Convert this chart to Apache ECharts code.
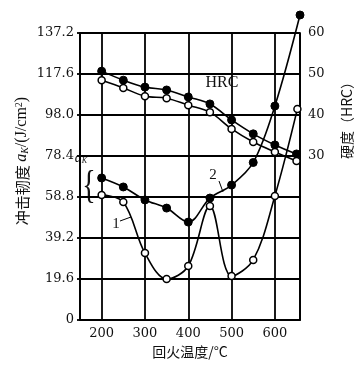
<!DOCTYPE html>
<html><head><meta charset="utf-8">
<script src="https://cdn.jsdelivr.net/npm/echarts@6/dist/echarts.min.js"></script>
<style>html,body{margin:0;padding:0;background:#fff}#c{width:357px;height:375px}</style>
</head><body><div id="c"></div>
<script>
// temperatures (°C)
const hrcTemps = [200, 250, 300, 350, 400, 450, 500, 550, 600, 650];
const ak1Temps = [200, 250, 300, 350, 400, 450, 500, 550, 600, 652];
const ak2Temps = [200, 250, 300, 350, 400, 450, 500, 550, 600, 658];
// hardness HRC (filled dots / open circles)
const hrcFilled = [50.7, 48.5, 46.8, 46.1, 44.4, 42.7, 38.8, 35.4, 32.7, 30.5];
const hrcOpen   = [48.5, 46.6, 44.6, 44.1, 42.4, 40.7, 36.6, 33.4, 31.0, 28.8];
// impact toughness aK (J/cm2): curve 1 (open) and curve 2 (filled)
const ak1 = [59.8, 56.4, 32.0, 19.6, 25.8, 54.5, 21.0, 28.7, 59.3, 100.9];
const ak2 = [67.9, 63.6, 57.4, 53.5, 46.8, 58.3, 64.5, 75.3, 102.3, 145.8];
// axis settings
const akTicks = [0, 19.6, 39.2, 58.8, 78.4, 98.0, 117.6, 137.2];
const hrcLabels = [30, 40, 50, 60];

const pairs = (xs, ys) => xs.map((x, i) => [x, ys[i]]);
const numFont = 'DejaVu Serif';
const cjk = '"Noto Sans CJK SC"';
const chart = echarts.init(document.getElementById('c'), null, {renderer: 'canvas'});
const blackLine = {color: '#000', width: 1.8};

const filledSeries = (name, xs, ys, yIdx) => ({
  name, type: 'line', yAxisIndex: yIdx, data: pairs(xs, ys), smooth: 0.35,
  clip: false, symbol: 'circle', symbolSize: 8,
  lineStyle: {color: '#000', width: 1.6},
  itemStyle: {color: '#000', borderColor: '#000', borderWidth: 1},
  z: 3
});
const openSeries = (name, xs, ys, yIdx) => ({
  name, type: 'line', yAxisIndex: yIdx, data: pairs(xs, ys), smooth: 0.35,
  clip: false, symbol: 'circle', symbolSize: 7,
  lineStyle: {color: '#000', width: 1.6},
  itemStyle: {color: '#fff', borderColor: '#000', borderWidth: 1.5},
  z: 4
});

chart.setOption({
  animation: false,
  backgroundColor: '#fff',
  grid: {left: 80, right: 57, top: 33, bottom: 55, containLabel: false},
  xAxis: {
    type: 'value', min: 150, max: 658, splitNumber: 5,
    axisLine: {lineStyle: blackLine},
    axisTick: {show: false},
    splitLine: {show: true, lineStyle: blackLine},
    axisLabel: {
      showMinLabel: false, showMaxLabel: false, margin: 7,
      color: '#111', fontFamily: numFont, fontSize: 13,
      formatter: v => (v % 100 === 0 ? String(v) : '')
    }
  },
  yAxis: [
    {
      type: 'value', min: akTicks[0], max: akTicks[akTicks.length - 1], interval: 19.6,
      axisLine: {show: true, lineStyle: blackLine},
      axisTick: {show: true, length: 3, lineStyle: blackLine},
      splitLine: {show: true, lineStyle: blackLine},
      axisLabel: {
        color: '#111', fontFamily: numFont, fontSize: 13, margin: 6,
        formatter: v => (v === 0 ? '0' : v.toFixed(1))
      }
    },
    {
      type: 'value', position: 'right', min: -10, max: 60, interval: 10,
      axisLine: {show: true, lineStyle: blackLine},
      axisTick: {show: false},
      splitLine: {show: false},
      axisLabel: {
        color: '#111', fontFamily: numFont, fontSize: 13, margin: 8,
        formatter: v => (hrcLabels.indexOf(v) >= 0 ? String(v) : '')
      }
    }
  ],
  series: [
    filledSeries('HRC-1', hrcTemps, hrcFilled, 1),
    openSeries('HRC-2', hrcTemps, hrcOpen, 1),
    filledSeries('aK-2', ak2Temps, ak2, 0),
    openSeries('aK-1', ak1Temps, ak1, 0)
  ],
  graphic: [
    {type: 'text', x: 22, y: 161, rotation: Math.PI / 2,
      style: {text: '冲击韧度 {i|a}{s|K}{t|/(J/cm}{p|2}{t|)}', align: 'center', verticalAlign: 'middle',
        font: '15px ' + cjk, fill: '#111',
        rich: {
          i: {fontFamily: 'Liberation Serif', fontStyle: 'italic', fontSize: 16, fill: '#111'},
          s: {fontFamily: 'Liberation Serif', fontStyle: 'italic', fontSize: 10, fill: '#111', verticalAlign: 'bottom', padding: [6, 0, 0, 0]},
          t: {fontFamily: 'Liberation Serif', fontSize: 16, fill: '#111'},
          p: {fontFamily: 'Liberation Serif', fontSize: 10, fill: '#111', verticalAlign: 'top', padding: [0, 0, 6, 0]}
        }}},
    {type: 'text', x: 347, y: 117, rotation: Math.PI / 2,
      style: {text: '硬度（HRC）', align: 'center', verticalAlign: 'middle', font: '14px ' + cjk, fill: '#111'}},
    {type: 'text', x: 190, y: 352,
      style: {text: '回火温度/°C', align: 'center', verticalAlign: 'middle', font: '14px ' + cjk, fill: '#111'}},
    {type: 'text', x: 222, y: 83,
      style: {text: 'HRC', align: 'center', verticalAlign: 'middle', font: '16px "Liberation Serif"', fill: '#111'}},
    {type: 'text', x: 81, y: 158,
      style: {text: '{i|a}{s|K}', align: 'center', verticalAlign: 'middle', font: 'italic 14px "Liberation Serif"', fill: '#111',
        rich: {i: {fontStyle: 'italic', fontSize: 14, fontFamily: 'Liberation Serif', fill: '#111'},
               s: {fontStyle: 'italic', fontSize: 8, fontFamily: 'Liberation Serif', fill: '#111', verticalAlign: 'bottom', padding: [5, 0, 0, 0]}}}},
    {type: 'text', x: 89, y: 187, scaleX: 0.7,
      style: {text: '{', align: 'center', verticalAlign: 'middle', font: '40px "Liberation Serif"', fill: '#111'}},
    {type: 'text', x: 213, y: 175,
      style: {text: '2', align: 'center', verticalAlign: 'middle', font: '15px "Liberation Serif"', fill: '#111'}},
    {type: 'line', shape: {x1: 219, y1: 181, x2: 223, y2: 192}, style: {stroke: '#000', lineWidth: 1}},
    {type: 'text', x: 116, y: 224,
      style: {text: '1', align: 'center', verticalAlign: 'middle', font: '15px "Liberation Serif"', fill: '#111'}},
    {type: 'line', shape: {x1: 120, y1: 221, x2: 131, y2: 217}, style: {stroke: '#000', lineWidth: 1}}
  ]
});
</script>
</body></html>
